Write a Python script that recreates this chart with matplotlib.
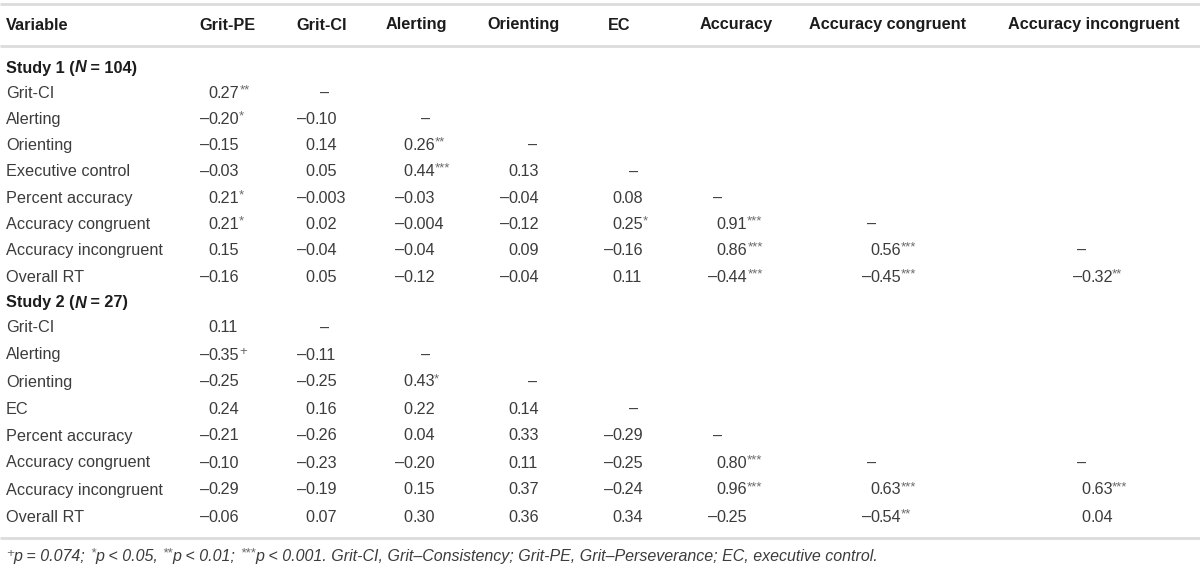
import matplotlib
matplotlib.use("Agg")
import matplotlib.pyplot as plt

plt.rcParams['font.family'] = ['Liberation Sans', 'DejaVu Sans']

# table content
columns = ["Grit-PE", "Grit-CI", "Alerting", "Orienting", "EC", "Accuracy",
           "Accuracy congruent", "Accuracy incongruent"]

study1_title = ("Study 1 (", "N", " = 104)")
study1_rows = ["Grit-CI", "Alerting", "Orienting", "Executive control", "Percent accuracy",
               "Accuracy congruent", "Accuracy incongruent", "Overall RT"]
study1_vals = [
    ["0.27**", "-"],
    ["-0.20*", "-0.10", "-"],
    ["-0.15", "0.14", "0.26**", "-"],
    ["-0.03", "0.05", "0.44***", "0.13", "-"],
    ["0.21*", "-0.003", "-0.03", "-0.04", "0.08", "-"],
    ["0.21*", "0.02", "-0.004", "-0.12", "0.25*", "0.91***", "-"],
    ["0.15", "-0.04", "-0.04", "0.09", "-0.16", "0.86***", "0.56***", "-"],
    ["-0.16", "0.05", "-0.12", "-0.04", "0.11", "-0.44***", "-0.45***", "-0.32**"],
]

study2_title = ("Study 2 (", "N", " = 27)")
study2_rows = ["Grit-CI", "Alerting", "Orienting", "EC", "Percent accuracy",
               "Accuracy congruent", "Accuracy incongruent", "Overall RT"]
study2_vals = [
    ["0.11", "-"],
    ["-0.35+", "-0.11", "-"],
    ["-0.25", "-0.25", "0.43*", "-"],
    ["0.24", "0.16", "0.22", "0.14", "-"],
    ["-0.21", "-0.26", "0.04", "0.33", "-0.29", "-"],
    ["-0.10", "-0.23", "-0.20", "0.11", "-0.25", "0.80***", "-", "-"],
    ["-0.29", "-0.19", "0.15", "0.37", "-0.24", "0.96***", "0.63***", "0.63***"],
    ["-0.06", "0.07", "0.30", "0.36", "0.34", "-0.25", "-0.54**", "0.04"],
]

footnote = [("+", True), ("p = 0.074; ", False), ("*", True), ("p < 0.05, ", False),
            ("**", True), ("p < 0.01; ", False), ("***", True),
            ("p < 0.001. Grit-CI, Grit\u2013Consistency; Grit-PE, Grit\u2013Perseverance; "
             "EC, executive control.", False)]

# layout (pixels)
W, H = 1200, 571
head_x = [227, 322, 416, 524, 619, 736, 888, 1094]
dec_x = [217, 314, 412, 517, 621, 725, 879, 1090]
dash_x = [222, 325, 426, 533, 634, 718, 872, 1082]
fs = 11.7
sup_fs = 9.5
txt_col = "#3c3c3c"
bold_col = "#1c1c1c"
sup_col = "#6a6a6a"
line_col = "#dcdcdc"

fig = plt.figure(figsize=(W / 100, H / 100), dpi=100)
ax = fig.add_axes([0, 0, 1, 1])
ax.set_xlim(0, W)
ax.set_ylim(H, 0)
ax.axis('off')
rend = fig.canvas.get_renderer()


def right_edge(t):
    # axes is 1:1 with pixels, so display x == data x
    return t.get_window_extent(rend).x1


def left_edge(t):
    return t.get_window_extent(rend).x0


for y in (4, 46, 538):
    ax.plot([0, W], [y, y], color=line_col, lw=2, solid_capstyle='butt')

ax.text(6, 25, "Variable", fontsize=fs, fontweight='bold', color=bold_col, va='center')
for name, x in zip(columns, head_x):
    ax.text(x, 25, name, fontsize=fs, fontweight='bold', color=bold_col,
            va='center', ha='center')


def cell(j, y, s):
    if s == "-":
        ax.text(dash_x[j], y, "\u2013", fontsize=fs, color=txt_col, ha='center', va='center')
        return
    mark = s.rstrip("*+")
    sup = s[len(mark):]
    neg = mark.startswith("-")
    whole, frac = mark.lstrip("-").split(".")
    w = ax.text(dec_x[j], y, whole, fontsize=fs, color=txt_col, ha='right', va='center')
    if neg:
        ax.text(left_edge(w) + 1.5, y, "\u2013", fontsize=fs, color=txt_col,
                ha='right', va='center')
    t = ax.text(dec_x[j], y, "." + frac, fontsize=fs, color=txt_col, ha='left', va='center')
    if sup:
        ax.text(right_edge(t) - 0.5, y - 3, sup, fontsize=sup_fs, color=sup_col,
                ha='left', va='center')


def study(title, rows, vals, y0, step):
    x = 6
    for k, piece in enumerate(title):
        t = ax.text(x, y0, piece, fontsize=fs, fontweight='bold', color=bold_col,
                    va='center', fontstyle='italic' if k == 1 else 'normal')
        x = right_edge(t)
    for i, (lab, row) in enumerate(zip(rows, vals)):
        y = y0 + 25 + i * step
        ax.text(6, y, lab, fontsize=fs, color=txt_col, va='center')
        for j, s in enumerate(row):
            cell(j, y, s)


study(study1_title, study1_rows, study1_vals, 68, 26.3)
study(study2_title, study2_rows, study2_vals, 303, 27.0)

x = 6
for s, sup in footnote:
    if sup:
        t = ax.text(x, 553.5, s, fontsize=sup_fs, color=sup_col, va='center',
                    fontstyle='italic')
        x = right_edge(t)
    else:
        t = ax.text(x, 557, s, fontsize=11.5, color=txt_col, va='center', fontstyle='italic')
        x = right_edge(t)

fig.savefig("out.png", dpi=100)
